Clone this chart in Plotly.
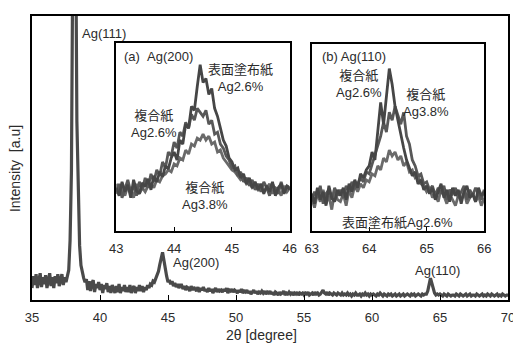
import numpy as np
import plotly.graph_objects as go

# ---------------- data (intensity in arbitrary units) ----------------
main_two_theta = np.round(np.arange(350, 701) / 10.0, 1)  # 35.0 ... 70.0 sample grid
main_intensity = [
    12, 24, 15, 26, 12, 21, 27, 13, 23, 16,
    25, 12, 20, 27, 14, 23, 12, 24, 17, 26,
    14, 22, 26, 15, 23, 18, 25, 30, 60, 130,
    350, 600, 400, 180, 100, 55, 35, 27, 22, 18,
    21, 10, 19, 9, 17, 20, 8, 16, 12, 18,
    10, 16, 7, 15, 11, 17, 8, 14, 7, 15,
    11, 7, 14, 8, 16, 7, 13, 9, 15, 8,
    13, 8, 15, 7, 12, 14, 7, 13, 9, 15,
    9, 14, 8, 13, 10, 15, 12, 16, 15, 19,
    18, 22, 24, 29, 36, 44, 48, 40, 30, 24,
    18, 20, 16, 19, 14, 17, 13, 16, 12, 15,
    15, 11, 14, 10, 13, 12, 9, 14, 10, 13,
    11, 9, 13, 8, 12, 10, 13, 9, 11, 8,
    12, 9, 11, 7, 10, 12, 8, 11, 9, 10,
    8, 11, 9, 12, 7, 10, 9, 11, 8, 10,
    9, 7, 10, 8, 11, 7, 9, 8, 10, 7,
    9, 6, 8, 10, 7, 9, 6, 8, 7, 9,
    7, 9, 6, 8, 7, 9, 6, 8, 5, 8,
    7, 5, 8, 6, 7, 9, 5, 7, 6, 8,
    6, 8, 5, 7, 6, 8, 5, 7, 6, 7,
    5, 7, 6, 8, 5, 6, 7, 5, 8, 6,
    7, 5, 6, 8, 10, 7, 6, 8, 5, 7,
    6, 5, 7, 6, 5, 7, 6, 5, 7, 5,
    6, 5, 7, 5, 6, 4, 6, 5, 7, 5,
    5, 6, 4, 6, 5, 7, 5, 6, 4, 6,
    5, 6, 5, 4, 6, 5, 7, 5, 4, 6,
    5, 4, 6, 5, 6, 4, 5, 6, 4, 5,
    6, 4, 5, 6, 4, 5, 6, 5, 4, 6,
    5, 6, 4, 5, 6, 5, 4, 6, 5, 6,
    6, 9, 15, 22, 17, 10, 7, 5, 6, 5,
    6, 5, 4, 6, 5, 4, 6, 5, 4, 5,
    5, 4, 6, 5, 4, 6, 5, 4, 5, 6,
    4, 5, 6, 4, 5, 5, 4, 6, 5, 4,
    5, 6, 4, 5, 4, 6, 5, 4, 6, 5,
    4, 5, 6, 4, 5, 4, 6, 5, 4, 5,
    5,
]

# inset (a): Ag(200), 43-46 deg
a_two_theta = np.round(np.arange(4300, 4601, 5) / 100.0, 2)
a_surface_26 = [
    44, 36, 50, 40, 47, 34, 52, 41, 38, 49,
    45, 53, 42, 56, 50, 60, 55, 66, 63, 74,
    80, 72, 92, 88, 108, 104, 126, 122, 146, 168,
    150, 154, 138, 144, 124, 116, 104, 92, 86, 74,
    70, 62, 64, 54, 58, 48, 54, 44, 50, 42,
    48, 38, 46, 40, 50, 36, 44, 48, 38, 46, 42,
]
a_composite_26 = [
    38, 48, 34, 44, 52, 40, 46, 36, 50, 42,
    54, 44, 58, 50, 62, 56, 70, 64, 80, 76,
    90, 84, 100, 96, 110, 104, 118, 112, 124, 120,
    116, 122, 108, 112, 98, 100, 88, 84, 76, 72,
    64, 66, 56, 60, 50, 54, 46, 52, 42, 48,
    40, 50, 44, 36, 48, 42, 38, 50, 40, 46, 44,
]
a_composite_38 = [
    48, 40, 44, 36, 46, 42, 34, 48, 38, 44,
    40, 46, 48, 44, 52, 50, 56, 58, 62, 60,
    68, 66, 74, 72, 82, 78, 88, 86, 94, 92,
    98, 92, 96, 88, 90, 80, 82, 74, 70, 66,
    62, 60, 56, 52, 54, 48, 50, 44, 46, 42,
    46, 40, 44, 48, 38, 44, 42, 36, 46, 40, 44,
]

# inset (b): Ag(110), 63-66 deg
b_two_theta = np.round(np.arange(6300, 6601, 5) / 100.0, 2)
b_composite_26 = [
    38, 28, 44, 32, 40, 26, 46, 34, 30, 42,
    36, 44, 32, 48, 40, 52, 44, 58, 54, 62,
    66, 80, 72, 98, 130, 108, 140, 164, 148, 126,
    112, 96, 84, 72, 64, 56, 60, 48, 52, 42,
    46, 38, 44, 32, 40, 48, 34, 42, 30, 44,
    36, 42, 28, 40, 46, 34, 38, 30, 44, 36, 40,
]
b_composite_38 = [
    30, 40, 34, 46, 28, 38, 42, 32, 44, 36,
    42, 34, 46, 40, 50, 44, 48, 54, 50, 60,
    58, 68, 76, 86, 96, 110, 100, 120, 112, 126,
    118, 108, 120, 96, 88, 72, 66, 56, 58, 48,
    50, 42, 46, 36, 44, 38, 46, 32, 42, 38,
    44, 34, 40, 46, 32, 42, 36, 44, 38, 32, 42,
]
b_surface_26 = [
    34, 24, 38, 30, 42, 28, 36, 22, 40, 32,
    30, 38, 26, 42, 34, 46, 40, 48, 44, 52,
    50, 58, 56, 66, 62, 74, 70, 82, 76, 80,
    72, 76, 66, 70, 60, 62, 54, 56, 48, 46,
    40, 44, 34, 38, 30, 42, 36, 28, 38, 32,
    26, 36, 32, 40, 28, 34, 38, 30, 36, 26, 34,
]

main_ticks = [35, 40, 45, 50, 55, 60, 65, 70]
a_ticks = [43, 44, 45, 46]
b_ticks = [63, 64, 65, 66]

# ---------------- figure ----------------
FONT = "Liberation Sans, Arial, Noto Sans CJK JP, sans-serif"
TXT = "#2b2b2b"

fig = go.Figure()
fig.add_trace(go.Scatter(x=main_two_theta, y=main_intensity, mode="lines",
                         line=dict(color="#4a4a4a", width=3.2), xaxis="x", yaxis="y",
                         showlegend=False))

for ys, col in [(a_composite_38, "#6a6a6a"), (a_composite_26, "#585858"), (a_surface_26, "#464646")]:
    fig.add_trace(go.Scatter(x=a_two_theta, y=ys, mode="lines", line=dict(color=col, width=2.8),
                             xaxis="x2", yaxis="y2", showlegend=False))
for ys, col in [(b_surface_26, "#6a6a6a"), (b_composite_38, "#585858"), (b_composite_26, "#464646")]:
    fig.add_trace(go.Scatter(x=b_two_theta, y=ys, mode="lines", line=dict(color=col, width=2.8),
                             xaxis="x3", yaxis="y3", showlegend=False))

axis_common = dict(showline=True, linecolor="black", mirror=True, showgrid=False, zeroline=False,
                   tickfont=dict(family=FONT, size=13, color=TXT))

# the page body adds an 8px offset, so the figure is 8px smaller and margins are shifted
fig.update_layout(
    width=513, height=337,
    margin=dict(l=24, r=9, t=6, b=45),
    paper_bgcolor="white", plot_bgcolor="white",
    font=dict(family=FONT, size=13, color=TXT),
    xaxis=dict(domain=[0, 1], range=[35, 70], tickvals=main_ticks, ticks="inside", ticklen=5,
               tickcolor="black", linewidth=2, ticklabelstandoff=4, **axis_common),
    yaxis=dict(domain=[0, 1], range=[0, 286], showticklabels=False, ticks="", linewidth=2,
               **axis_common),
    xaxis2=dict(domain=[0.177, 0.5417], range=[43, 46], tickvals=a_ticks, ticks="inside", ticklen=5,
                tickcolor="black", linewidth=1.5, anchor="y2", ticklabelstandoff=4, **axis_common),
    yaxis2=dict(domain=[0.2413, 0.9056], range=[0, 190], showticklabels=False, ticks="",
                linewidth=1.5, anchor="x2", **axis_common),
    xaxis3=dict(domain=[0.5875, 0.95], range=[63, 66], tickvals=b_ticks, ticks="inside", ticklen=5,
                tickcolor="black", linewidth=1.5, anchor="y3", ticklabelstandoff=4, **axis_common),
    yaxis3=dict(domain=[0.2413, 0.9021], range=[0, 189], showticklabels=False, ticks="",
                linewidth=1.5, anchor="x3", **axis_common),
)

def ann(text, x, y, xref, yref, xanchor="center", yanchor="middle", size=13, angle=0):
    fig.add_annotation(text=text, x=x, y=y, xref=xref, yref=yref, xanchor=xanchor, yanchor=yanchor,
                       showarrow=False, textangle=angle, align="center",
                       font=dict(family=FONT, size=size, color=TXT))

# main plot labels
ann("Ag(111)", 38.5, 268, "x", "y", xanchor="left")
ann("Ag(200)", 45.2, 38, "x", "y", xanchor="left")
ann("Ag(110)", 64.8, 30, "x", "y")

# inset (a) labels
ann("(a)&nbsp;&nbsp;Ag(200)", 43.1, 176, "x2", "y2", xanchor="left")
ann("表面塗布紙<br>Ag2.6%", 45.14, 155, "x2", "y2")
ann("複合紙<br>Ag2.6%", 43.65, 108, "x2", "y2")
ann("複合紙<br>Ag3.8%", 44.53, 36, "x2", "y2")

# inset (b) labels
ann("(b) Ag(110)", 63.14, 176, "x3", "y3", xanchor="left")
ann("複合紙<br>Ag2.6%", 63.83, 149, "x3", "y3")
ann("複合紙<br>Ag3.8%", 64.98, 129, "x3", "y3")
ann("表面塗布紙Ag2.6%", 64.5, 9, "x3", "y3")

# axis titles
ann("Intensity  [a.u]", -0.0354, 0.4615, "paper", "paper", size=14, angle=-90)
ann("2θ [degree]", 0.483, -0.1224, "paper", "paper", size=14)

fig.write_html("out.html")
